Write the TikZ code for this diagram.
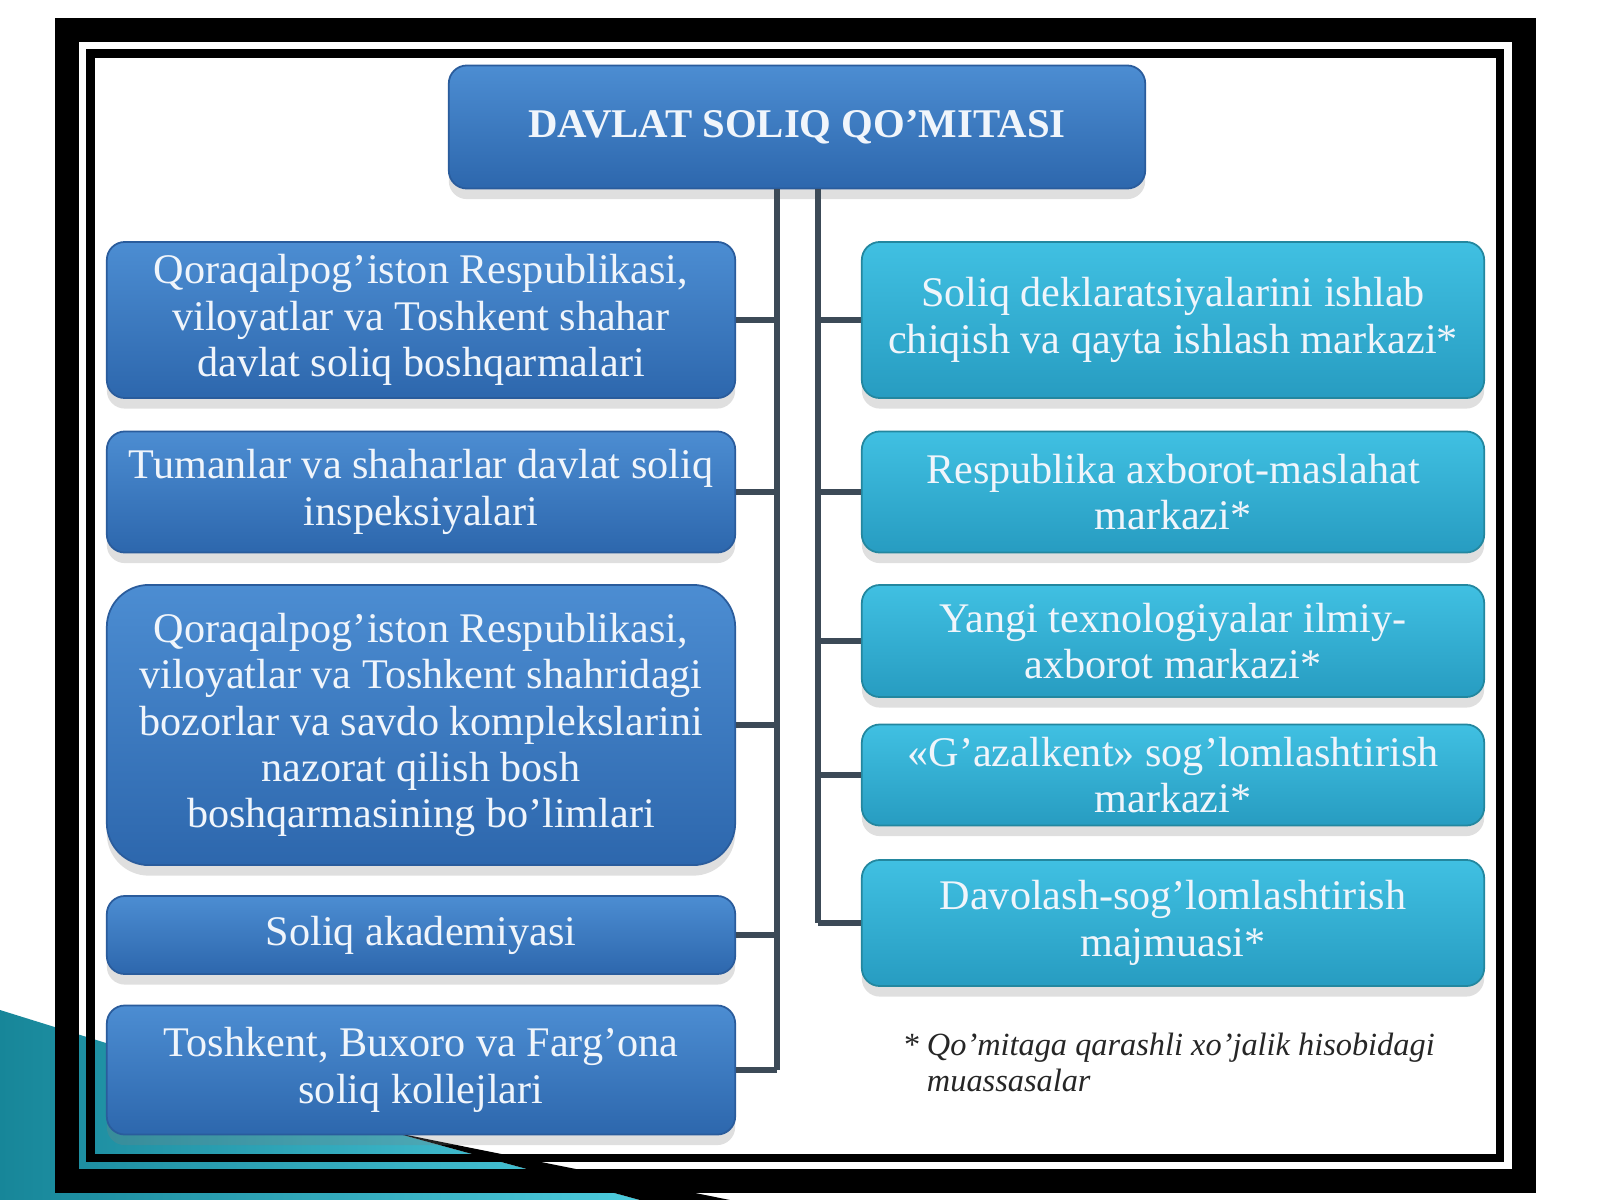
\documentclass[tikz,border=0pt]{standalone}
\usepackage{fontspec}
\setmainfont{Liberation Serif}
\usetikzlibrary{positioning,shadows}
\tikzstyle{chart} = [x=0.01cm, y=-0.01cm]
\definecolor{blueTop}{HTML}{4C8DD2}
\definecolor{blueBottom}{HTML}{2D67AD}
\definecolor{blueEdge}{HTML}{2A5C9C}
\definecolor{tealTop}{HTML}{40C0E2}
\definecolor{tealBottom}{HTML}{279CC1}
\definecolor{tealEdge}{HTML}{23879F}
\definecolor{lineColor}{HTML}{3C4A57}
\definecolor{textColor}{HTML}{F0F5FB}
\definecolor{themeDark}{HTML}{178699}
\definecolor{themeLight}{HTML}{4CCBDD}
\tikzstyle{boxStyle} = [rounded corners=.18cm, align=center, text=textColor, font=\fontsize{12}{13.2}\selectfont, line width=.5pt, drop shadow={shadow xshift=0pt, shadow yshift=-3pt, opacity=.25}]
\tikzstyle{blueBox} = [boxStyle, draw=blueEdge, top color=blueTop, bottom color=blueBottom, minimum width=6.28cm]
\tikzstyle{tealBox} = [boxStyle, draw=tealEdge, top color=tealTop, bottom color=tealBottom, minimum width=6.22cm]
\tikzstyle{branchLine} = [color=lineColor, line width=.06cm]
\tikzstyle{frameLine} = [color=black]
\newcommand{\leftBox}[4]{\node [blueBox, minimum height=#3cm] (#1) at (421,#2) {#4};}
\newcommand{\rightBox}[4]{\node [tealBox, minimum height=#3cm] (#1) at (1173,#2) {#4};}
\newcommand{\leftBranch}[1]{\draw [branchLine] (#1.east) -- (#1.east -| leftTrunk);}
\newcommand{\rightBranch}[1]{\draw [branchLine] (#1.west) -- (#1.west -| rightTrunk);}

\begin{document}
\begin{tikzpicture}[chart]
\useasboundingbox (0,0) rectangle (1600,1200);
\fill [white] (0,0) rectangle (1600,1200);
\shade [left color=themeDark, right color=themeLight] (0,1010) -- (392,1132) -- (640,1200) -- (0,1200) -- cycle;
\draw [frameLine, line width=.24cm] (67,30) rectangle (1524,1181);
\draw [frameLine, line width=.08cm] (90.5,53.5) rectangle (1500,1157.5);
\fill [black] (392,1132) -- (730,1200) -- (640,1200) -- cycle;
\node [blueBox, minimum width=6.96cm, minimum height=1.23cm, font=\bfseries\fontsize{11.6}{13}\selectfont] (top) at (797,127) {DAVLAT SOLIQ QO’MITASI};
\coordinate (leftTrunk) at (777,0);
\coordinate (rightTrunk) at (818,0);
\leftBox{l1}{320}{1.56}{Qoraqalpog’iston Respublikasi,\\viloyatlar va Toshkent shahar\\davlat soliq boshqarmalari}
\leftBox{l2}{492}{1.21}{Tumanlar va shaharlar davlat soliq\\inspeksiyalari}
\node [blueBox, rounded corners=.42cm, minimum height=2.8cm] (l3) at (421,725) {Qoraqalpog’iston Respublikasi,\\viloyatlar va Toshkent shahridagi\\bozorlar va savdo komplekslarini\\nazorat qilish bosh\\boshqarmasining bo’limlari};
\leftBox{l4}{935}{0.78}{Soliq akademiyasi}
\leftBox{l5}{1070}{1.29}{Toshkent, Buxoro va Farg’ona\\soliq kollejlari}
\rightBox{r1}{320}{1.56}{Soliq deklaratsiyalarini ishlab\\chiqish va qayta ishlash markazi*}
\rightBox{r2}{492}{1.21}{Respublika axborot-maslahat\\markazi*}
\rightBox{r3}{641}{1.12}{Yangi texnologiyalar ilmiy-\\axborot markazi*}
\rightBox{r4}{775}{1.01}{«G’azalkent» sog’lomlashtirish\\markazi*}
\rightBox{r5}{923}{1.26}{Davolash-sog’lomlashtirish\\majmuasi*}
\draw [branchLine] (top.south -| leftTrunk) -- (leftTrunk |- l5.east);
\draw [branchLine] (top.south -| rightTrunk) -- (rightTrunk |- r5.west);
\foreach \unit in {l1,l2,l3,l4,l5} {\leftBranch{\unit}}
\foreach \unit in {r1,r2,r3,r4,r5} {\rightBranch{\unit}}
\node [anchor=north west, align=left, inner sep=0pt, text=black!85, font=\itshape\fontsize{9.2}{10.4}\selectfont] (note) at (902,1032) {* Qo’mitaga qarashli xo’jalik hisobidagi\\\phantom{* }muassasalar};
\end{tikzpicture}
\end{document}
